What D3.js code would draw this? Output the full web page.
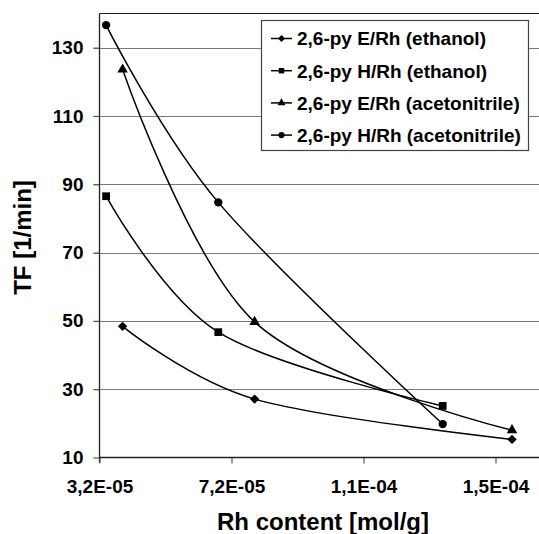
<!DOCTYPE html>
<html>
<head>
<meta charset="utf-8">
<script src="https://cdn.jsdelivr.net/npm/d3@7"></script>
<style>
  html, body { margin: 0; padding: 0; background: #fff; }
  svg { display: block; }
  text { font-family: "Liberation Sans", Arial, sans-serif; font-weight: bold; fill: #000; }
</style>
</head>
<body>
<svg id="chart" width="539" height="534"></svg>
<script>
// Turnover frequency vs. rhodium content for the four catalyst / solvent series
const seriesNames = [
  "2,6-py E/Rh (ethanol)",
  "2,6-py H/Rh (ethanol)",
  "2,6-py E/Rh (acetonitrile)",
  "2,6-py H/Rh (acetonitrile)"
];
const markerTypes = ["diamond", "square", "triangle", "circle"];

const rhE = [3.9e-5, 7.9e-5, 1.57e-4];   // E/Rh catalysts, mol/g
const rhH = [3.4e-5, 6.8e-5, 1.36e-4];   // H/Rh catalysts, mol/g

const tfEEthanol = [48.4, 27.1, 15.3];
const tfHEthanol = [86.5, 46.7, 25.1];
const tfEAcetonitrile = [123.6, 49.7, 18.0];
const tfHAcetonitrile = [136.6, 84.7, 19.8];

const xTickValues = [3.2e-5, 7.2e-5, 1.12e-4, 1.52e-4];
const xTickLabels = ["3,2E-05", "7,2E-05", "1,1E-04", "1,5E-04"];
const yTickValues = [10, 30, 50, 70, 90, 110, 130];

const xTitle = "Rh content [mol/g]";
const yTitle = "TF [1/min]";

const series = [
  { name: seriesNames[0], marker: markerTypes[0], xs: rhE, ys: tfEEthanol },
  { name: seriesNames[1], marker: markerTypes[1], xs: rhH, ys: tfHEthanol },
  { name: seriesNames[2], marker: markerTypes[2], xs: rhE, ys: tfEAcetonitrile },
  { name: seriesNames[3], marker: markerTypes[3], xs: rhH, ys: tfHAcetonitrile }
];

const svg = d3.select("#chart");
const plot = { left: 99.5, top: 13.5, right: 560, bottom: 457.5 };

const x = d3.scaleLinear().domain([3.2e-5, 1.7e-4]).range([plot.left, plot.left + 138e-6 * 3.3e6]);
const y = d3.scaleLinear().domain([10, 140]).range([plot.bottom, plot.top]);

// horizontal gridlines
svg.append("g")
  .selectAll("line")
  .data(yTickValues.filter(v => v > 10))
  .join("line")
  .attr("x1", plot.left - 6).attr("x2", plot.right)
  .attr("y1", d => Math.round(y(d)) + 0.5).attr("y2", d => Math.round(y(d)) + 0.5)
  .attr("stroke", "#7a7a7a").attr("stroke-width", 1.2);

// plot frame: top edge
svg.append("line")
  .attr("x1", plot.left).attr("x2", plot.right)
  .attr("y1", plot.top).attr("y2", plot.top)
  .attr("stroke", "#222").attr("stroke-width", 1.2);

// y axis
const yAxis = d3.axisLeft(y).tickValues(yTickValues).tickSize(6).tickPadding(10)
  .tickFormat(d3.format("d"));
const gy = svg.append("g").attr("transform", `translate(${plot.left},0)`).call(yAxis);
gy.select(".domain").remove();
gy.selectAll(".tick line").attr("stroke", "#555").attr("stroke-width", 1.2);
gy.selectAll(".tick text").style("font-size", "19px").attr("fill", "#000");
svg.append("line")
  .attr("x1", plot.left).attr("x2", plot.left)
  .attr("y1", plot.top).attr("y2", plot.bottom + 5)
  .attr("stroke", "#222").attr("stroke-width", 1.3);

// x axis
const xAxis = d3.axisBottom(x).tickValues(xTickValues).tickSize(6).tickPadding(16)
  .tickFormat((d, i) => xTickLabels[i]);
const gx = svg.append("g").attr("transform", `translate(0,${plot.bottom})`).call(xAxis);
gx.select(".domain").remove();
gx.selectAll(".tick line").attr("stroke", "#555").attr("stroke-width", 1.2);
gx.selectAll(".tick text").style("font-size", "19px").attr("fill", "#000");
svg.append("line")
  .attr("x1", plot.left).attr("x2", plot.right)
  .attr("y1", plot.bottom).attr("y2", plot.bottom)
  .attr("stroke", "#222").attr("stroke-width", 1.3);

// axis titles
svg.append("text")
  .attr("x", 323).attr("y", 530)
  .attr("text-anchor", "middle")
  .style("font-size", "24px")
  .text(xTitle);
svg.append("text")
  .attr("transform", "translate(31,237.5) rotate(-90)")
  .attr("text-anchor", "middle")
  .style("font-size", "24px")
  .text(yTitle);

// smoothed series lines
const line = d3.line()
  .x(d => x(d[0])).y(d => y(d[1]))
  .curve(d3.curveCardinal.tension(0));

const lines = svg.append("g");
series.forEach(s => {
  const pts = s.xs.map((v, i) => [v, s.ys[i]]);
  lines.append("path")
    .attr("d", line(pts))
    .attr("fill", "none")
    .attr("stroke", "#000")
    .attr("stroke-width", 1.5);
});

// marker shapes
const symbolOf = {
  diamond: d3.symbol().type(d3.symbolDiamond2).size(56),
  square: d3.symbol().type(d3.symbolSquare).size(60),
  triangle: d3.symbol().type(d3.symbolTriangle).size(48),
  circle: d3.symbol().type(d3.symbolCircle).size(54)
};
const legendSymbolOf = {
  diamond: d3.symbol().type(d3.symbolDiamond2).size(32),
  square: d3.symbol().type(d3.symbolSquare).size(30),
  triangle: d3.symbol().type(d3.symbolTriangle).size(28),
  circle: d3.symbol().type(d3.symbolCircle).size(30)
};

const marks = svg.append("g");
series.forEach(s => {
  s.xs.forEach((v, i) => {
    marks.append("path")
      .attr("d", symbolOf[s.marker]())
      .attr("transform", `translate(${x(v)},${y(s.ys[i])})`)
      .attr("fill", "#000");
  });
});

// legend
const legend = svg.append("g");
legend.append("rect")
  .attr("x", 261.5).attr("y", 20.5)
  .attr("width", 267).attr("height", 130)
  .attr("fill", "#fff").attr("stroke", "#444").attr("stroke-width", 1.2);

series.forEach((s, i) => {
  const cy = 38.5 + i * 32.2;
  legend.append("line")
    .attr("x1", 271).attr("x2", 292)
    .attr("y1", cy).attr("y2", cy)
    .attr("stroke", "#000").attr("stroke-width", 1.5);
  legend.append("path")
    .attr("d", legendSymbolOf[s.marker]())
    .attr("transform", `translate(281.5,${cy})`)
    .attr("fill", "#000");
  legend.append("text")
    .attr("x", 297).attr("y", cy + 6.8)
    .style("font-size", "19px")
    .text(s.name);
});
</script>
</body>
</html>
